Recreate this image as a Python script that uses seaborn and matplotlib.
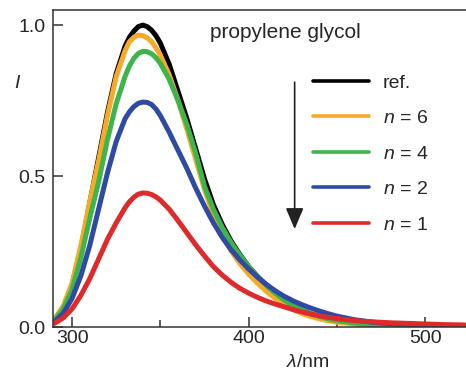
import pandas as pd
import numpy as np
import matplotlib
matplotlib.use("Agg")
import matplotlib.pyplot as plt
import seaborn as sns

# emission spectra (normalised intensity)
wavelength = [290, 295, 300, 305, 310, 315, 320, 325, 330, 332.5, 335, 337.5, 340, 342.5, 345, 347.5, 350,
              355, 360, 365, 370, 375, 380, 385, 390, 395, 400, 405, 410, 415, 420, 425, 430, 435, 440, 445,
              450, 460, 470, 480, 490, 500, 510, 520, 525]
I_ref = [0.025, 0.065, 0.14, 0.26, 0.41, 0.56, 0.71, 0.84, 0.93, 0.96, 0.98, 0.995, 1.0, 0.995, 0.983, 0.965, 0.94,
         0.87, 0.78, 0.69, 0.59, 0.49, 0.405, 0.34, 0.285, 0.24, 0.2, 0.167, 0.138, 0.112, 0.09, 0.071, 0.056, 0.044, 0.035, 0.028,
         0.022, 0.014, 0.009, 0.006, 0.004, 0.003, 0.002, 0.001, 0.001]
I_n6 = [0.025, 0.07, 0.145, 0.27, 0.415, 0.55, 0.70, 0.83, 0.915, 0.945, 0.96, 0.967, 0.965, 0.958, 0.945, 0.925, 0.90,
        0.835, 0.75, 0.655, 0.555, 0.455, 0.37, 0.305, 0.252, 0.21, 0.175, 0.145, 0.118, 0.095, 0.075, 0.058, 0.045, 0.035, 0.027, 0.021,
        0.016, 0.01, 0.006, 0.004, 0.003, 0.002, 0.001, 0.001, 0.0]
I_n4 = [0.022, 0.06, 0.125, 0.23, 0.36, 0.48, 0.62, 0.74, 0.83, 0.865, 0.89, 0.906, 0.913, 0.912, 0.905, 0.892, 0.873,
        0.82, 0.75, 0.67, 0.575, 0.465, 0.39, 0.33, 0.28, 0.238, 0.2, 0.167, 0.138, 0.112, 0.09, 0.071, 0.056, 0.044, 0.035, 0.027,
        0.021, 0.013, 0.008, 0.005, 0.004, 0.003, 0.002, 0.001, 0.001]
I_n2 = [0.018, 0.045, 0.095, 0.17, 0.27, 0.39, 0.51, 0.615, 0.69, 0.713, 0.73, 0.741, 0.745, 0.744, 0.737, 0.722, 0.70,
        0.645, 0.585, 0.525, 0.46, 0.40, 0.345, 0.297, 0.256, 0.222, 0.192, 0.165, 0.141, 0.12, 0.102, 0.087, 0.074, 0.063, 0.053, 0.044,
        0.036, 0.024, 0.016, 0.011, 0.008, 0.006, 0.004, 0.003, 0.002]
I_n1 = [0.012, 0.03, 0.06, 0.105, 0.16, 0.225, 0.29, 0.345, 0.395, 0.415, 0.43, 0.44, 0.444, 0.443, 0.439, 0.431, 0.42,
        0.39, 0.352, 0.312, 0.272, 0.235, 0.2, 0.172, 0.148, 0.128, 0.112, 0.098, 0.086, 0.076, 0.067, 0.058, 0.05, 0.043, 0.037, 0.032,
        0.028, 0.021, 0.017, 0.014, 0.012, 0.01, 0.008, 0.007, 0.006]

labels = ['ref.', '$n$ = 6', '$n$ = 4', '$n$ = 2', '$n$ = 1']
colors = ['#000000', '#F8A928', '#3DB54A', '#2E4AA3', '#DF2A2C']

df = pd.concat([pd.DataFrame({'wl': wavelength, 'I': vals, 'sample': lab})
                for lab, vals in zip(labels, [I_ref, I_n6, I_n4, I_n2, I_n1])], ignore_index=True)

sns.set_style("ticks")
plt.rcParams['font.family'] = ['Liberation Sans', 'DejaVu Sans']
plt.rcParams['mathtext.fontset'] = 'custom'
plt.rcParams['mathtext.rm'] = 'Liberation Sans'
plt.rcParams['mathtext.it'] = 'Liberation Sans:italic'

fig = plt.figure(figsize=(4.66, 3.74), dpi=100)
ax = fig.add_axes([53 / 466, 47 / 374, 413 / 466, 317 / 374])

sns.lineplot(data=df, x='wl', y='I', hue='sample', hue_order=labels,
             palette=dict(zip(labels, colors)), linewidth=3.6, ax=ax, sort=False,
             solid_joinstyle='round')

ax.set_xlim(289.2, 523)
ax.set_ylim(0, 1.05)
ax.set_xticks([300, 400, 500])
ax.set_xticks([350, 450], minor=True)
ax.set_yticks([0, 0.5, 1.0])
ax.set_yticklabels(['0.0', '0.5', '1.0'])
ax.tick_params(which='both', direction='in', width=1.1, color='#333333', labelsize=14)
ax.tick_params(axis='x', which='major', length=7, pad=2)
ax.tick_params(axis='x', which='minor', length=5)
ax.tick_params(axis='y', length=7, pad=5.5)
for side in ['left', 'bottom', 'top']:
    ax.spines[side].set_linewidth(1.1)
    ax.spines[side].set_color('#333333')
ax.spines['right'].set_visible(False)

ax.set_xlabel(r'$\lambda$/nm', fontsize=14)
ax.xaxis.set_label_coords(0.617, -0.085)
ax.set_ylabel('$I$', fontsize=14, rotation=0)
ax.yaxis.set_label_coords(-0.085, 0.74)

ax.text(420.7, 0.977, 'propylene glycol', fontsize=15, ha='center', va='center')

ax.annotate('', xy=(426, 0.315), xytext=(426, 0.82),
            arrowprops=dict(arrowstyle='-|>,head_width=0.55,head_length=1.3', color='#222222', lw=1.2))

leg = ax.legend(loc='upper left', bbox_to_anchor=((313 - 53) / 413, (327 - 74) / 317),
                frameon=False, fontsize=14, handlelength=2.9, handletextpad=0.7,
                labelspacing=0.92, borderpad=0, borderaxespad=0)
for line in leg.get_lines():
    line.set_linewidth(2.6)

fig.savefig('out.png', dpi=100)
